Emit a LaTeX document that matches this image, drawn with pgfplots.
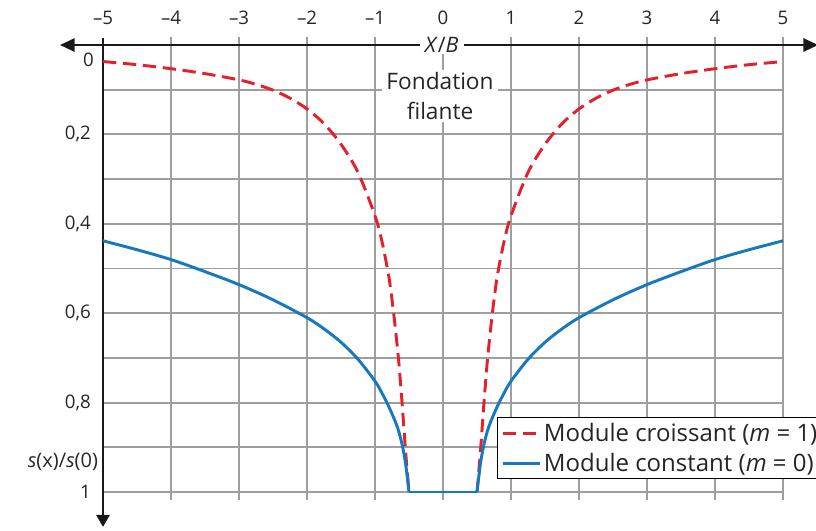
\documentclass[border=0pt]{standalone}
\usepackage{fontspec}
\setmainfont{Open Sans}
\usepackage{pgfplots}
\usepackage{pgfplotstable}
\pgfplotsset{compat=1.18}
\usetikzlibrary{arrows.meta}

\definecolor{crois}{RGB}{228,32,44}
\definecolor{const}{RGB}{22,120,190}
\definecolor{grille}{RGB}{158,158,158}

% Tassement relatif s(x)/s(0), module croissant (m = 1) : branche gauche
\pgfplotstableread{
x y
-5.0 0.037
-4.5 0.044
-4.0 0.053
-3.5 0.064
-3.0 0.078
-2.75 0.088
-2.5 0.101
-2.25 0.119
-2.0 0.143
-1.75 0.176
-1.5 0.222
-1.25 0.285
-1.0 0.382
-0.9 0.438
-0.8 0.515
-0.75 0.570
-0.7 0.635
-0.65 0.710
-0.6 0.805
-0.55 0.910
-0.5 1.000
}\croisG
% branche droite
\pgfplotstableread{
x y
0.5 1.000
0.55 0.910
0.6 0.805
0.65 0.710
0.7 0.635
0.75 0.570
0.8 0.515
0.9 0.438
1.0 0.382
1.25 0.285
1.5 0.222
1.75 0.176
2.0 0.143
2.25 0.119
2.5 0.101
2.75 0.088
3.0 0.078
3.5 0.064
4.0 0.053
4.5 0.044
5.0 0.037
}\croisD

% Module constant (m = 0) : branche gauche
\pgfplotstableread{
x y
-5.0 0.438
-4.5 0.458
-4.0 0.480
-3.5 0.507
-3.0 0.536
-2.5 0.570
-2.0 0.610
-1.75 0.635
-1.5 0.665
-1.25 0.703
-1.0 0.752
-0.9 0.778
-0.8 0.808
-0.7 0.843
-0.65 0.865
-0.6 0.895
-0.55 0.937
-0.5 1.000
}\constG
% sous la semelle
\pgfplotstableread{
x y
-0.5 1.000
0.5 1.000
}\constM
% branche droite
\pgfplotstableread{
x y
0.5 1.000
0.55 0.937
0.6 0.895
0.65 0.865
0.7 0.843
0.8 0.808
0.9 0.778
1.0 0.752
1.25 0.703
1.5 0.665
1.75 0.635
2.0 0.610
2.5 0.570
3.0 0.536
3.5 0.507
4.0 0.480
4.5 0.458
5.0 0.438
}\constD

\begin{document}
\begin{tikzpicture}
\begin{axis}[
  scale only axis,
  width=510pt, height=335.25pt,
  xmin=-5, xmax=5, ymin=0, ymax=1,
  y dir=reverse,
  clip=false,
  axis line style={draw=none},
  tick style={draw=none},
  xtick={-5,-4,...,5},
  xticklabels={–5,–4,–3,–2,–1,0,1,2,3,4,5},
  xticklabel pos=upper,
  ytick={0.2,0.4,0.6,0.8,1},
  yticklabels={{0,2},{0,4},{0,6},{0,8},1},
  /pgf/number format/assume math mode=true,
  xticklabel style={anchor=south, inner sep=0pt, yshift=15pt, font=\fontsize{14}{16}\selectfont, text=black!85},
  yticklabel style={anchor=east, inner sep=0pt, xshift=-9pt, font=\fontsize{14}{16}\selectfont, text=black!85},
  legend style={at={(0.5794,0.168)}, anchor=north west, draw=black, line width=1pt,
    fill=white, inner xsep=3pt, inner ysep=2.5pt, row sep=4.5pt,
    font=\fontsize{18}{21}\selectfont, text=black!85,
    nodes={inner sep=1.5pt}},
  legend cell align=left,
  legend image code/.code={\draw[#1] (0pt,0pt) -- (28pt,0pt);},
]
% grille
\pgfplotsinvokeforeach{0.1,0.2,0.3,0.4,0.5,0.6,0.7,0.8,0.9,1}{
  \draw[grille, line width=1.4pt] (axis cs:-5,#1) -- (axis cs:5,#1);
}
\pgfplotsinvokeforeach{-4,-3,-2,-1,0,1,2,3,4,5}{
  \draw[grille, line width=1.4pt] (axis cs:#1,-0.018) -- (axis cs:#1,1.018);
}
% semelle
\node[fill=white, align=center, inner xsep=3pt, inner ysep=2pt,
  font=\fontsize{17}{22}\selectfont, text=black!85]
  at (axis cs:-0.044,0.114) {Fondation\\filante};
% axes
\draw[black!90, line width=1.5pt, {Triangle[length=11pt,width=10pt]}-{Triangle[length=11pt,width=10pt]}]
  (axis cs:-5.632,0) -- (axis cs:5.515,0);
\node[fill=white, inner xsep=4pt, inner ysep=1pt, font=\fontsize{16}{18}\selectfont, text=black!85]
  at (axis cs:-0.02,0) {\textit{X}/\textit{B}};
\draw[black!90, line width=1.7pt, -{Triangle[length=9pt,width=10pt]}]
  (axis cs:-5,-0.016) -- (axis cs:-5,1.078);
\node[anchor=east, inner sep=0pt, font=\fontsize{14}{16}\selectfont, text=black!85]
  at (axis cs:-5.132,0.034) {0};
\node[anchor=east, inner sep=0pt, font=\fontsize{15}{18}\selectfont, text=black!85]
  at (axis cs:-5.07,0.932) {\textit{s}(x)/\textit{s}(0)};

\addplot[crois, line width=2.2pt, dash pattern=on 10pt off 5pt, smooth, tension=0.5] table[x=x,y=y] {\croisG};
\addlegendentry{Module croissant (\textit{m} = 1)}
\addplot[crois, line width=2.2pt, dash pattern=on 10pt off 5pt, smooth, tension=0.5, forget plot] table[x=x,y=y] {\croisD};
\addplot[const, line width=2.2pt, smooth, tension=0.5] table[x=x,y=y] {\constG};
\addlegendentry{Module constant (\textit{m} = 0)}
\addplot[const, line width=2.2pt, forget plot] table[x=x,y=y] {\constM};
\addplot[const, line width=2.2pt, smooth, tension=0.5, forget plot] table[x=x,y=y] {\constD};

\coordinate (bbll) at (axis cs:-6.515,1.085);
\coordinate (bbur) at (axis cs:5.485,-0.1007);
\end{axis}
\pgfresetboundingbox
\useasboundingbox (bbll) rectangle (bbur);
\end{tikzpicture}
\end{document}
